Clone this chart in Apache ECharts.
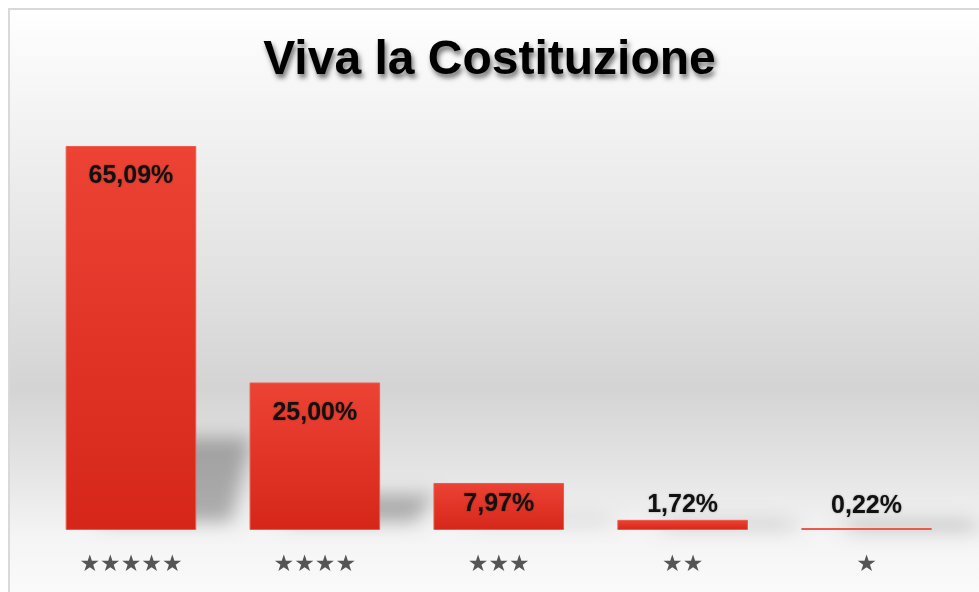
<!DOCTYPE html>
<html>
<head>
<meta charset="utf-8">
<script src="https://cdn.jsdelivr.net/npm/echarts@6/dist/echarts.min.js"></script>
<style>
html,body{margin:0;padding:0;background:#fff;}
#chart{width:979px;height:592px;}
</style>
</head>
<body>
<div id="chart"></div>
<script>
const titleText = 'Viva la Costituzione';
const categories = ['★★★★★', '★★★★', '★★★', '★★', '★'];
const values = [65.09, 25.00, 7.97, 1.72, 0.22];
const valueLabels = ['65,09%', '25,00%', '7,97%', '1,72%', '0,22%'];

const labelStyles = [
  {position: 'insideTop', distance: 18},
  {position: 'insideTop', distance: 18},
  {position: 'insideTop', distance: 9},
  {position: 'top', distance: 2},
  {position: 'top', distance: 9}
];

const chart = echarts.init(document.getElementById('chart'), null, {renderer: 'canvas'});

const barData = values.map((v, i) => ({
  value: v,
  label: labelStyles[i]
}));

const option = {
  animation: false,
  backgroundColor: '#ffffff',
  graphic: [{
    type: 'rect',
    z: -10,
    silent: true,
    shape: {x: 9, y: 9, width: 990, height: 610},
    style: {
      fill: new echarts.graphic.LinearGradient(0, 0, 0, 1, [
        {offset: 0, color: '#ffffff'},
        {offset: 0.15, color: '#f5f5f5'},
        {offset: 0.45, color: '#e1e1e1'},
        {offset: 0.62, color: '#d4d4d4'},
        {offset: 0.76, color: '#e5e5e5'},
        {offset: 0.86, color: '#f4f4f4'},
        {offset: 1, color: '#fdfdfd'}
      ]),
      stroke: '#d9d9d9',
      lineWidth: 2
    }
  }],
  title: {
    text: titleText,
    left: 'center',
    top: 32,
    textStyle: {
      fontFamily: 'Liberation Sans, Arial, sans-serif',
      fontSize: 48,
      fontWeight: 'bold',
      color: '#000',
      textShadowColor: 'rgba(0,0,0,0.55)',
      textShadowBlur: 5,
      textShadowOffsetX: 2,
      textShadowOffsetY: 4
    }
  },
  grid: {left: 39, right: 20.5, top: 117, bottom: 62},
  xAxis: {
    type: 'category',
    data: categories,
    axisLine: {show: false},
    axisTick: {show: false},
    axisLabel: {
      margin: 24,
      fontSize: 23,
      color: '#555',
      fontFamily: 'DejaVu Sans, sans-serif'
    }
  },
  yAxis: {
    type: 'value',
    min: 0,
    max: 70,
    show: false,
    splitLine: {show: false}
  },
  series: [{
    type: 'custom',
    z: 1,
    silent: true,
    data: values.map((v, i) => [i, v]),
    renderItem: function (params, api) {
      const base = api.coord([api.value(0), 0]);
      const top = api.coord([api.value(0), api.value(1)]);
      const bw = api.size([1, 0])[0] * 0.71;
      const h = base[1] - top[1];
      const sh = h * 0.24;
      const shift = 3000;
      return {
        type: 'polygon',
        shape: {
          points: [
            [base[0] - bw / 2 + 35 - shift, base[1] - 8],
            [base[0] + bw / 2 + 35 - shift, base[1] - 8],
            [base[0] + bw / 2 + 55 - shift, base[1] - sh],
            [base[0] - bw / 2 + 55 - shift, base[1] - sh]
          ]
        },
        style: {
          fill: '#000',
          shadowColor: 'rgba(0,0,0,0.28)',
          shadowBlur: 18,
          shadowOffsetX: shift,
          shadowOffsetY: 0
        }
      };
    },
    encode: {x: 0, y: 1}
  }, {
    type: 'bar',
    z: 5,
    data: barData,
    barWidth: '71%',
    barMinHeight: 2,
    itemStyle: {
      color: new echarts.graphic.LinearGradient(0, 0, 0, 1, [
        {offset: 0, color: '#ec4335'},
        {offset: 1, color: '#d6261a'}
      ]),
      borderColor: '#ec5a4d',
      borderWidth: 1
    },
    label: {
      show: true,
      formatter: function (p) { return valueLabels[p.dataIndex]; },
      fontFamily: 'Liberation Sans, Arial, sans-serif',
      fontSize: 25,
      fontWeight: 'bold',
      color: '#111',
      textShadowColor: 'rgba(0,0,0,0.35)',
      textShadowBlur: 2
    }
  }]
};

chart.setOption(option);
</script>
</body>
</html>
